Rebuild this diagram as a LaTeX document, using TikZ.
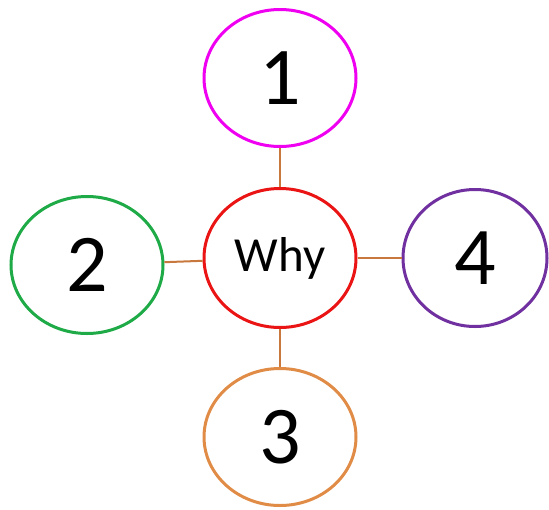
\documentclass[tikz,border=0pt]{standalone}
\usepackage{fontspec}
\setmainfont{Carlito}
\usetikzlibrary{shapes.geometric}
\definecolor{cmag}{RGB}{240,0,240}
\definecolor{cred}{RGB}{235,20,20}
\definecolor{cgreen}{RGB}{30,170,70}
\definecolor{cpurple}{RGB}{112,48,160}
\definecolor{corange}{RGB}{225,140,70}
\definecolor{clink}{RGB}{200,120,60}
\begin{document}
\begin{tikzpicture}[x=1pt,y=-1pt,
  bubble/.style={ellipse,draw,line width=3pt,inner sep=0pt,minimum width=152pt,minimum height=137pt,fill=white,font=\fontsize{82}{82}\selectfont},
  link/.style={draw=clink,line width=2pt}]
\useasboundingbox (0,0) rectangle (549,509);
\node[bubble,draw=cmag] (n1) at (280,78) {1};
\node[bubble,draw=cred,minimum height=139pt,font=\fontsize{49}{49}\selectfont] (why) at (280,258) {Why};
\node[bubble,draw=cgreen] (n2) at (87,265) {2};
\node[bubble,draw=corange] (n3) at (280,437) {3};
\node[bubble,draw=cpurple,minimum width=144pt] (n4) at (475,258) {4};
\draw[link] (n1) -- (why);
\draw[link] (n2) -- (why);
\draw[link] (why) -- (n4);
\draw[link] (why) -- (n3);
\end{tikzpicture}
\end{document}
